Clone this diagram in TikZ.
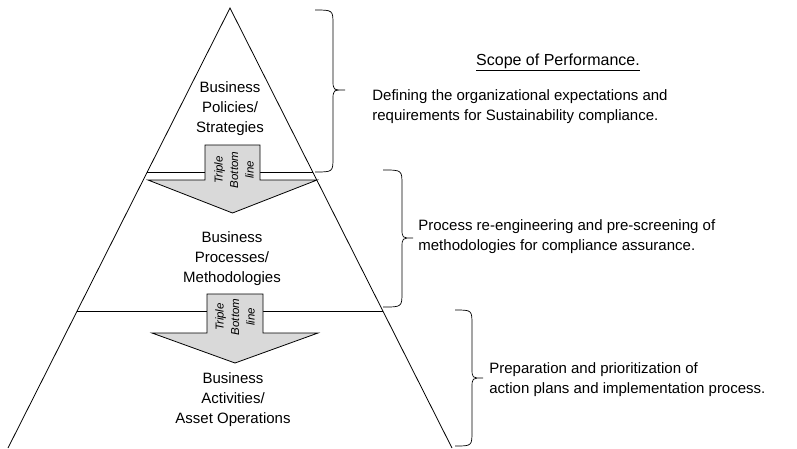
\documentclass[tikz,border=0pt]{standalone}
\usepackage{fontspec}
\setmainfont{Liberation Sans}
\usepackage{xcolor}
\usepackage{tikz}
\usetikzlibrary{positioning}
\definecolor{arrowgray}{RGB}{217,217,217}

\begin{document}
\begin{tikzpicture}[x=1pt,y=-1pt, line width=0.8pt,
  every node/.style={font=\fontsize{15}{20}\selectfont},
  tierlabel/.style={align=center, inner sep=0pt},
  flowarrow/.style={draw, fill=arrowgray, line join=miter},
  arrowtext/.style={font=\itshape\fontsize{11.5}{15.5}\selectfont, align=center, rotate=90, inner sep=0pt},
  scopetext/.style={align=left, anchor=west, inner sep=0pt},
  bracket/.style={draw, line width=0.7pt}]
\useasboundingbox (0,0) rectangle (797,448);
% pyramid
\draw (8,448) -- (230,8) -- (452,448);
\draw (147,172) -- (313,172);
\draw (77,311) -- (383,311);
% downward arrows
\draw[flowarrow] (205,145) -- (260,145) -- (260,180) -- (317,180) -- (232.5,213) -- (148,180) -- (205,180) -- cycle;
\draw[flowarrow] (207,294) -- (263,294) -- (263,333) -- (318,333) -- (235,363) -- (152,333) -- (207,333) -- cycle;
\node[arrowtext] (tbl1) at (234,170) {Triple\\Bottom\\line};
\node[arrowtext] (tbl2) at (235,317) {Triple\\Bottom\\line};
% tiers
\node[tierlabel] (policies) at (230,109) {Business\\Policies/\\Strategies};
\node[tierlabel] (processes) at (232,259) {Business\\Processes/\\Methodologies};
\node[tierlabel] (activities) at (233,400) {Business\\Activities/\\Asset Operations};
% braces
\draw[bracket] (315,10) .. controls (333,10) .. (333,25) -- (333,80) .. controls (333,90) .. (345,90)
  .. controls (333,90) .. (333,100) -- (333,157) .. controls (333,172) .. (315,172);
\draw[bracket] (383,170) .. controls (402,170) .. (402,185) -- (402,228) .. controls (402,238) .. (413,238)
  .. controls (402,238) .. (402,248) -- (402,292) .. controls (402,307) .. (383,307);
\draw[bracket] (455,310) .. controls (472,310) .. (472,325) -- (472,368) .. controls (472,378) .. (483,378)
  .. controls (472,378) .. (472,388) -- (472,431) .. controls (472,446) .. (455,446);
% scope texts
\node[font=\fontsize{16}{20}\selectfont] (scope) at (558,62) {\underline{Scope of Performance.}};
\node[scopetext] (define) at (372,107) {Defining the organizational expectations and\\requirements for Sustainability compliance.};
\node[scopetext] (process) at (418,237) {Process re-engineering and pre-screening of\\methodologies for compliance assurance.};
\node[scopetext] (prepare) at (489,380) {Preparation and prioritization of\\action plans and implementation process.};
\end{tikzpicture}
\end{document}
